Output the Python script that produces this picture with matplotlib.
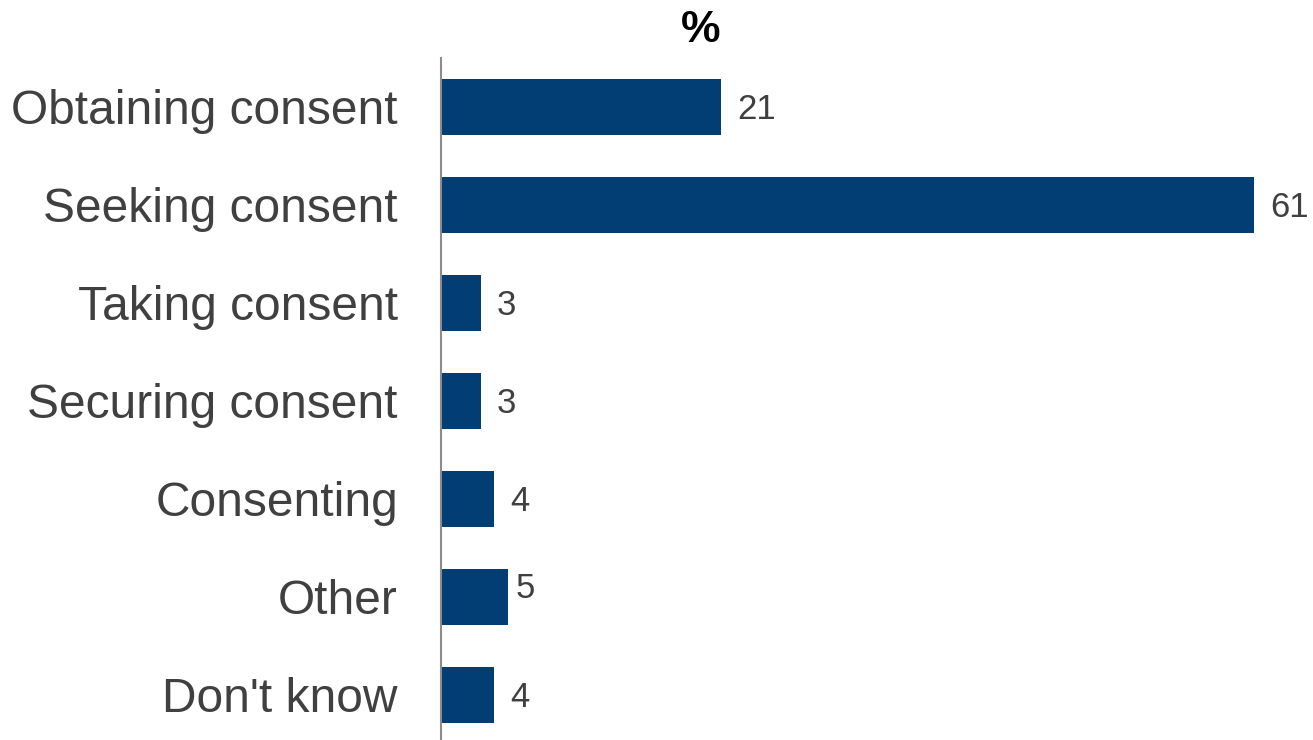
import numpy as np
import matplotlib.pyplot as plt

categories = ["Obtaining consent", "Seeking consent", "Taking consent",
              "Securing consent", "Consenting", "Other", "Don't know"]
percent = [21, 61, 3, 3, 4, 5, 4]

BAR_COLOR = "#023e73"
TEXT_COLOR = "#404040"

plt.rcParams["font.family"] = ["Liberation Sans", "DejaVu Sans"]

fig = plt.figure(figsize=(13.13, 7.4), dpi=100)
ax = fig.add_axes([441 / 1313, 0, 872 / 1313, 682 / 740])

y = np.arange(len(categories))
ax.barh(y, percent, height=0.57, color=BAR_COLOR)

ax.set_ylim(6.46, -0.5)
ax.set_xlim(0, 65.4)
ax.set_yticks(y)
ax.set_yticklabels(categories, fontsize=34.5, color=TEXT_COLOR)
ax.tick_params(axis="y", length=0, pad=31)
ax.set_xticks([])

for side in ["top", "right", "bottom"]:
    ax.spines[side].set_visible(False)
ax.spines["left"].set_color("#8c8c8c")
ax.spines["left"].set_linewidth(1.5)

# value labels; the "Other" label sits a little tighter and higher
for i, v in enumerate(percent):
    dx, dy = (6, 6) if categories[i] == "Other" else (11.5, -2)
    ax.annotate(str(v), (v, i), xytext=(dx, dy), textcoords="offset points",
                va="center", ha="left", fontsize=25, color=TEXT_COLOR)

fig.text(701 / 1313, 1 - 31 / 740, "%", ha="center", va="center",
         fontsize=32, fontweight="bold", color="black")

fig.savefig("out.png", dpi=100)
